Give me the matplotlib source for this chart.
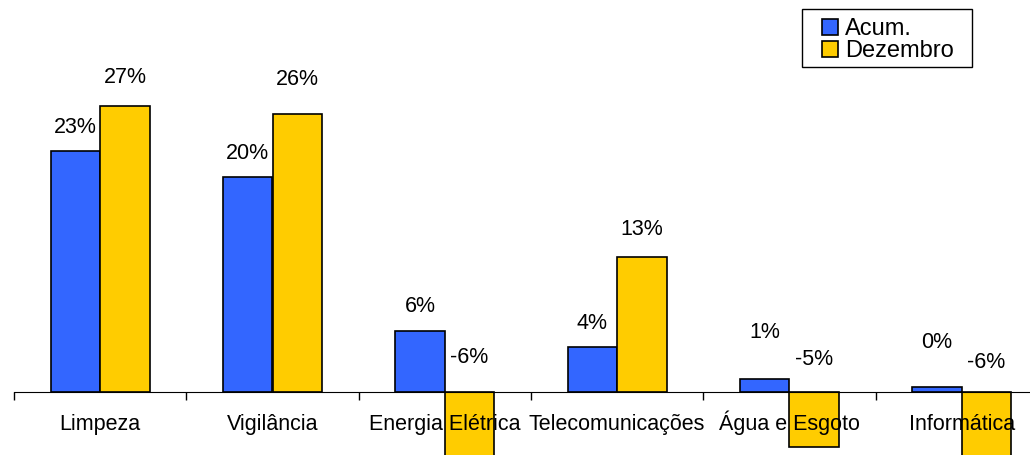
import matplotlib.pyplot as plt
from matplotlib.patches import Rectangle
import numpy as np

plt.rcParams['font.family'] = ['Liberation Sans', 'DejaVu Sans']

categorias = ["Limpeza", "Vigilância", "Energia Elétrica", "Telecomunicações",
              "Água e Esgoto", "Informática"]
series = ["Acum.", "Dezembro"]
acum = [22.9, 20.4, 5.8, 4.2, 1.2, 0.4]
dezembro = [27.2, 26.4, -6.2, 12.8, -5.3, -6.3]

# deslocamento vertical dos rótulos (pixels acima do topo da barra / do eixo)
off_acum = [25, 25, 25, 25, 47, 46]
off_dez = [29, 36, 35, 29, 33, 30]

azul = "#3366FF"
amarelo = "#FFCC00"

W, H = 1030, 456
fig = plt.figure(figsize=(W / 100, H / 100), dpi=100)
px_por_pct = 10.5
eixo_y = 392.5  # posição do zero, px a partir do topo
ax = fig.add_axes([14 / W, 0, 1034 / W, 1])
ax.set_xlim(0, len(categorias))
ax.set_ylim(-(H - eixo_y) / px_por_pct, eixo_y / px_por_pct)

x = np.arange(len(categorias)) + 0.5
w = 0.2875
ax.bar(x - w / 2, acum, w, color=azul, edgecolor="black", linewidth=1.2, zorder=2)
ax.bar(x + w / 2, dezembro, w, color=amarelo, edgecolor="black", linewidth=1.2, zorder=2)

fs = 15.5
for i in range(len(categorias)):
    for xv, v, off in ((x[i] - w / 2, acum[i], off_acum[i]), (x[i] + w / 2, dezembro[i], off_dez[i])):
        ax.annotate(f"{v:.0f}%", (xv, max(v, 0)), xytext=(0, off), textcoords="offset pixels",
                    ha="center", va="center", fontsize=fs, zorder=4)
    ax.annotate(categorias[i], (x[i], 0), xytext=(0, -37.5), textcoords="offset pixels",
                ha="center", va="baseline", fontsize=fs, zorder=4)

for s in ["top", "right", "left"]:
    ax.spines[s].set_visible(False)
ax.spines["bottom"].set_position(("data", 0))
ax.spines["bottom"].set_zorder(3)
ax.set_yticks([])
ax.set_xticks(np.arange(len(categorias)))
ax.set_xticklabels([])
ax.tick_params(axis="x", direction="out", length=6, width=1)

# legenda desenhada à mão (caixa em pixels)
def fx(px):
    return px / W

def fy(py):
    return 1 - py / H

fig.add_artist(Rectangle((fx(802), fy(68)), fx(170), 58 / H, transform=fig.transFigure,
                         facecolor="white", edgecolor="black", linewidth=1))
for k, (nome, cor) in enumerate(zip(series, [azul, amarelo])):
    topo = 20 + 22 * k
    fig.add_artist(Rectangle((fx(822), fy(topo + 16)), fx(16), 16 / H, transform=fig.transFigure,
                             facecolor=cor, edgecolor="black", linewidth=1.2))
    fig.text(fx(845), fy(topo + 15), nome, fontsize=17, ha="left", va="baseline")

fig.savefig("out.png", dpi=100)
